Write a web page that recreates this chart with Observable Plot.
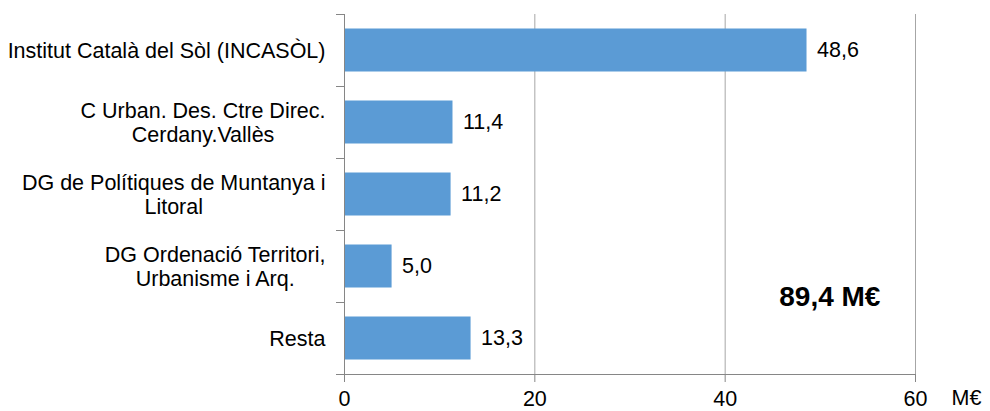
<!DOCTYPE html>
<html><head><meta charset="utf-8">
<script src="https://cdn.jsdelivr.net/npm/d3@7"></script>
<script src="https://cdn.jsdelivr.net/npm/@observablehq/plot@0.6"></script>
<style>
html,body{margin:0;padding:0;background:#fff;}
svg{font-family:"Liberation Sans",Arial,sans-serif;}
</style></head>
<body>
<div id="chart"></div>
<script>
const categories = [
  "Institut Català del Sòl (INCASÒL)",
  "C Urban. Des. Ctre Direc.\nCerdany.Vallès",
  "DG de Polítiques de Muntanya i\nLitoral",
  "DG Ordenació Territori,\nUrbanisme i Arq.",
  "Resta"
];
const values = [48.6, 11.4, 11.2, 5.0, 13.3];
const valueLabels = ["48,6", "11,4", "11,2", "5,0", "13,3"];
const xTicks = [0, 20, 40, 60];
const unitLabel = "M€";
const totalLabel = "89,4 M€";
const totalPos = {x: 51, y: 3.93};

const data = categories.map((c, i) => ({cat: c, i, v: values[i], lab: valueLabels[i]}));
const bounds = d3.range(categories.length + 1);
const FS = 21.5;

const chart = Plot.plot({
  width: 990,
  height: 411,
  marginLeft: 344,
  marginRight: 75,
  marginTop: 14,
  marginBottom: 37,
  style: {fontFamily: '"Liberation Sans", Arial, sans-serif', fontSize: FS + "px", color: "#000", background: "#fff"},
  x: {domain: [0, 60]},
  y: {domain: [0, categories.length], reverse: true},
  marks: [
    Plot.ruleX(xTicks.slice(1), {y1: 0, y2: categories.length, stroke: "#a6a6a6", strokeWidth: 1}),
    Plot.rectX(data, {x1: 0, x2: "v", y1: "i", y2: d => d.i + 1, insetTop: 14.5, insetBottom: 14.5, fill: "#5b9bd5"}),
    Plot.axisX({ticks: xTicks, tickSize: 8, tickPadding: 8, label: null, stroke: "#868686", fontSize: FS, fill: "#000"}),
    Plot.ruleY([categories.length], {stroke: "#868686"}),
    Plot.axisY({ticks: bounds, tickSize: 8, tickFormat: () => "", label: null, stroke: "#868686"}),
    Plot.ruleX([0], {y1: 0, y2: categories.length, stroke: "#868686"}),
    Plot.text(data, {x: 0, y: d => d.i + 0.5, text: "cat", textAnchor: "end", dx: -19, fontSize: FS, fill: "#000", lineHeight: 1.08, ariaLabel: "ylabels"}),
    Plot.text(data, {x: "v", y: d => d.i + 0.5, text: "lab", textAnchor: "start", dx: 10, fontSize: FS, fill: "#000"}),
    Plot.text([unitLabel], {x: xTicks[xTicks.length - 1], y: categories.length, text: d => d, textAnchor: "start", dx: 36, dy: 24, fontSize: FS, fill: "#000"}),
    Plot.text([totalLabel], {x: totalPos.x, y: totalPos.y, text: d => d, fontSize: 28, fontWeight: "bold", fill: "#000"})
  ]
});
document.getElementById("chart").appendChild(chart);

// center multi-line labels within a right-aligned block
chart.querySelectorAll("text").forEach(t => {
  const spans = t.querySelectorAll("tspan");
  if (spans.length < 2) return;
  let w = 0;
  spans.forEach(s => { w = Math.max(w, s.getComputedTextLength()); });
  t.setAttribute("text-anchor", "middle");
  t.style.textAnchor = "middle";
  spans.forEach(s => { s.setAttribute("x", -w / 2); s.setAttribute("text-anchor", "middle"); });
});
</script>
</body></html>
